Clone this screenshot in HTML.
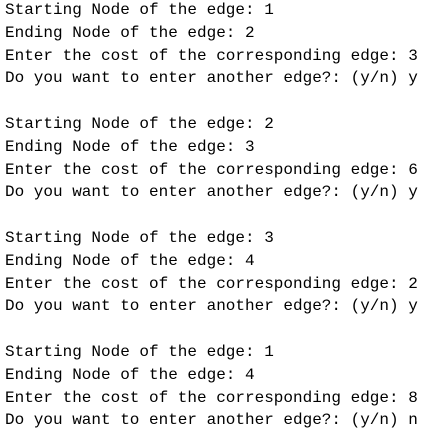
<!DOCTYPE html>
<html><head><meta charset="utf-8"><style>
html,body{margin:0;padding:0;background:#fff;width:447px;height:442px;overflow:hidden}
pre{margin:-1px 0 0 5px;font-family:"Liberation Mono",monospace;font-size:16px;line-height:22.8px;color:#000}
#g{position:absolute;left:0;top:0;width:447px;height:442px}
#g span{position:absolute;width:9.6px;text-align:center;font-family:"Liberation Mono",monospace;font-size:16px;line-height:22.8px;color:#000;white-space:pre}
</style></head><body><pre id="p">Starting Node of the edge: 1
Ending Node of the edge: 2
Enter the cost of the corresponding edge: 3
Do you want to enter another edge?: (y/n) y

Starting Node of the edge: 2
Ending Node of the edge: 3
Enter the cost of the corresponding edge: 6
Do you want to enter another edge?: (y/n) y

Starting Node of the edge: 3
Ending Node of the edge: 4
Enter the cost of the corresponding edge: 2
Do you want to enter another edge?: (y/n) y

Starting Node of the edge: 1
Ending Node of the edge: 4
Enter the cost of the corresponding edge: 8
Do you want to enter another edge?: (y/n) n</pre>
<div id="g"></div>
<script>
(function(){
var p=document.getElementById('p'),g=document.getElementById('g');
var lines=p.textContent.split('\n'),h='';
for(var i=0;i<lines.length;i++){var l=lines[i];
for(var j=0;j<l.length;j++){var c=l[j];if(c===' ')continue;
c=c.replace('&','&amp;').replace('<','&lt;');
h+='<span style="left:'+(5+j*9.6).toFixed(1)+'px;top:'+(-1+i*22.8).toFixed(1)+'px">'+c+'</span>';}}
g.innerHTML=h;p.style.visibility='hidden';
})();
</script>
</body></html>
